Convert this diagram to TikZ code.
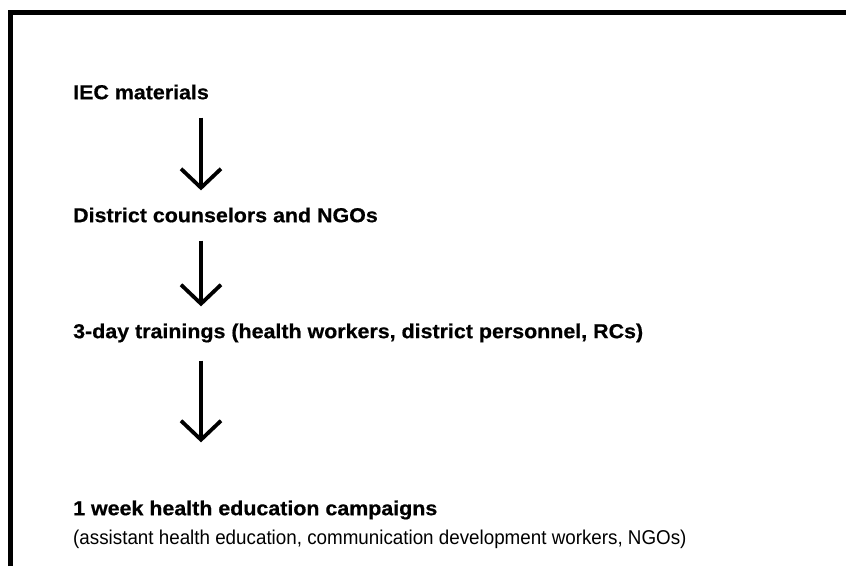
\documentclass[tikz,border=0pt]{standalone}
\usepackage{fontspec}
\setmainfont{Liberation Sans}
\newfontfamily\stepfont[FakeStretch=1.06,FakeBold=0.6]{Liberation Sans}
\newfontfamily\notefont[FakeStretch=0.94]{Liberation Sans}
\usepackage{tikz}
\usetikzlibrary{
	positioning,
	arrows.meta
}
\tikzset{
	node distance=5em,
	step label/.style={
		anchor=west,
		inner sep=0pt,
		font=\stepfont\fontsize{20.2}{24}\selectfont\bfseries
	},
	note label/.style={
		inner sep=0pt,
		font=\notefont\fontsize{20}{24}\selectfont
	},
	flow/.style={
		line width=3.8pt,
		-{Straight Barb[length=19pt,width=40pt,line width=3.8pt]},
		shorten <=18pt,
		shorten >=17pt
	}
}

\begin{document}
\begin{tikzpicture}[x=1pt,y=-1pt]
	\useasboundingbox (0,0) rectangle (846,566);
	\draw[line width=5pt] (10,566) -- (10,12.5) -- (846,12.5);

	\coordinate (axis) at (201,0);
	\node[step label] (iec)       at (73,92)  {IEC materials};
	\node[step label] (district)  at (73,215) {District counselors and NGOs};
	\node[step label] (training)  at (73,333) {3-day trainings (health workers, district personnel, RCs)};
	\node[step label] (campaign)  at (73,510) {1 week health education campaigns};
	\node[note label,below=10pt of campaign.south west,anchor=north west]
		(campaignsub) {(assistant health education, communication development workers, NGOs)};

	\draw[flow] (iec.south west -| axis)      -- (district.north west -| axis);
	\draw[flow] (district.south west -| axis) -- (training.north west -| axis);
	\draw[flow,shorten >=58pt] (training.south west -| axis) -- (campaign.north west -| axis);
\end{tikzpicture}
\end{document}
